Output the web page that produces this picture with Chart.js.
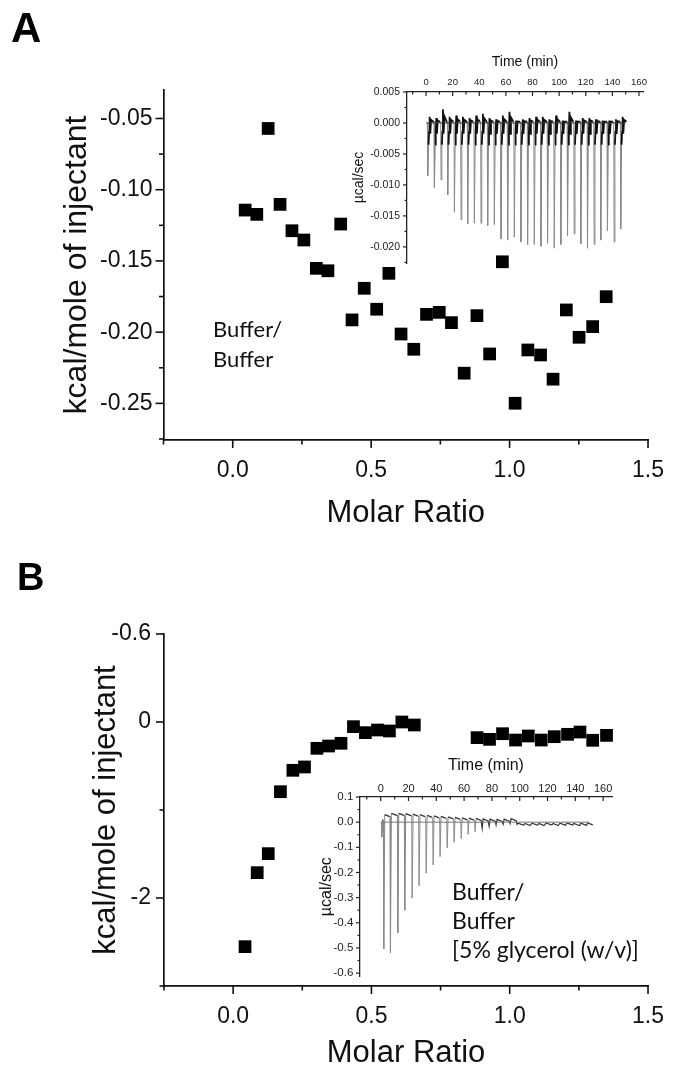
<!DOCTYPE html>
<html>
<head>
<meta charset="utf-8">
<title>ITC buffer/buffer titrations</title>
<script src="https://cdn.jsdelivr.net/npm/chart.js@4.4.1/dist/chart.umd.min.js"></script>
<style>
  html, body { margin: 0; padding: 0; background: #fff; }
  #page { position: relative; width: 681px; height: 1072px; overflow: hidden; }
  #page canvas { position: absolute; }
  .panel-tag { position: absolute; font-family: "Liberation Sans", Arial, sans-serif; font-weight: bold; color: #000; }
  .note { position: absolute; font-family: Lato, "Open Sans", sans-serif; color: #111; white-space: nowrap; }
</style>
</head>
<body>
<div id="page">
  <canvas id="chart-a" width="681" height="500" style="left:0;top:40px"></canvas>
  <canvas id="inset-a" width="351" height="240" style="left:330px;top:40px"></canvas>
  <canvas id="chart-b" width="681" height="482" style="left:0;top:590px"></canvas>
  <canvas id="inset-b" width="391" height="245" style="left:290px;top:745px"></canvas>

  <div class="panel-tag" style="left:11px;top:7px;font-size:42px;line-height:42px">A</div>
  <div class="panel-tag" style="left:17px;top:558px;font-size:38px;line-height:38px">B</div>
  <div class="note" style="left:213px;top:314px;font-size:22px;line-height:30px">Buffer/<br>Buffer</div>
  <div class="note" style="left:452px;top:877px;font-size:23px;line-height:29px">Buffer/<br>Buffer<br>[5% glycerol (w/v)]</div>
</div>

<script>
// Panel A: integrated heats, buffer into buffer
var aMolarRatio = [0.045, 0.087, 0.128, 0.171, 0.214, 0.257, 0.302, 0.344, 0.390, 0.431,
                   0.475, 0.520, 0.564, 0.608, 0.654, 0.700, 0.746, 0.790, 0.836, 0.882,
                   0.928, 0.974, 1.020, 1.066, 1.112, 1.157, 1.205, 1.251, 1.300, 1.349];
var aHeat = [-0.1143, -0.1173, -0.0570, -0.1103, -0.1288, -0.1353, -0.1552, -0.1569, -0.1241, -0.1914,
             -0.1692, -0.1839, -0.1587, -0.2013, -0.2120, -0.1875, -0.1861, -0.1933, -0.2288, -0.1884,
             -0.2153, -0.1506, -0.2499, -0.2125, -0.2160, -0.2330, -0.1844, -0.2036, -0.1961, -0.1751];

// Panel A inset: raw thermogram, one entry per injection (time, lowest point, highest point after it)
var aInjTime = [1, 6, 11, 16, 21, 26, 31, 36, 41, 46, 51, 56, 61, 66, 71,
                76, 81, 86, 91, 96, 101, 106, 111, 116, 121, 126, 131, 136, 141, 146];
var aInjPeak = [-0.0085, -0.0104, -0.0092, -0.0116, -0.0144, -0.0156, -0.0163, -0.0162, -0.0162, -0.0166,
                -0.0164, -0.0187, -0.0189, -0.0184, -0.0192, -0.0196, -0.0196, -0.0199, -0.0194, -0.0202,
                -0.0196, -0.0182, -0.0179, -0.0195, -0.0202, -0.0196, -0.0189, -0.0174, -0.0192, -0.0171];
var aInjTop = [0.0010, 0.0008, 0.0022, 0.0010, 0.0012, 0.0010, 0.0008, 0.0012, 0.0015, 0.0008,
               0.0006, 0.0012, 0.0018, 0.0004, 0.0006, 0.0008, 0.0010, 0.0010, 0.0006, 0.0012,
               0.0004, 0.0018, 0.0004, 0.0008, 0.0008, 0.0006, 0.0004, 0.0004, 0.0006, 0.0010];
var aBaseline = [[0, 0], [150, 0]];

// Panel B: integrated heats, buffer with 5% glycerol
var bMolarRatio = [0.043, 0.087, 0.127, 0.171, 0.216, 0.258, 0.303, 0.345, 0.390, 0.435,
                   0.478, 0.522, 0.565, 0.610, 0.655, 0.882, 0.927, 0.974, 1.021, 1.067,
                   1.114, 1.161, 1.209, 1.254, 1.300, 1.350];
var bHeat = [-2.553, -1.712, -1.496, -0.792, -0.549, -0.511, -0.299, -0.273, -0.242, -0.053,
             -0.121, -0.091, -0.102, 0.000, -0.034, -0.178, -0.197, -0.133, -0.205, -0.159,
             -0.205, -0.167, -0.140, -0.114, -0.208, -0.152];
var bYTickValues = [1, 0, -2];
var bYTickLabels = ["-0.6", "0", "-2"];

// Panel B inset: raw thermogram
var bInjTime = [0.5, 1.9, 6.7, 12, 17, 22.3, 27.3, 32.4, 37.4, 42.4, 47.5, 52.5, 57.6, 62.6, 67.6, 72.7,
                77.7, 82.7, 87.8, 92.8, 97.8, 102.9, 107.9, 112.9, 118, 123, 128, 133, 138, 143, 148];
var bInjPeak = [-0.060, -0.504, -0.520, -0.440, -0.350, -0.302, -0.253, -0.203, -0.170, -0.137, -0.102,
                -0.080, -0.065, -0.049, -0.038, -0.025, -0.016, -0.011, -0.008, -0.006, -0.009,
                -0.010, -0.009, -0.010, -0.009, -0.010, -0.009, -0.010, -0.009, -0.010, -0.009];
var bInjTop = [0.010, 0.030, 0.035, 0.035, 0.034, 0.032, 0.030, 0.027, 0.025, 0.023, 0.021,
               0.019, 0.017, 0.016, 0.015, 0.013, 0.012, 0.011, 0.012, 0.014, -0.004,
               -0.005, -0.004, -0.005, -0.003, -0.005, -0.004, -0.003, -0.005, -0.004, -0.003];
var bBaseline = [[0, 0], [150, 0]];

var FONT = '"Liberation Sans", Arial, Helvetica, sans-serif';
var INK = "#111";
var SPIKE_GREY = "#8a8a8a";

Chart.defaults.font.family = FONT;
Chart.defaults.color = INK;
Chart.defaults.animation = false;
Chart.defaults.plugins.legend.display = false;
Chart.defaults.plugins.tooltip.enabled = false;

function _toPoints(xs, ys) {
  return xs.map(function(x, i) { return { x: x, y: ys[i] }; });
}

function _pairs(list) {
  return list.map(function(p) { return { x: p[0], y: p[1] }; });
}

// label only the multiples of `step` (optionally inside lo..hi)
function _labelEvery(step, digits, lo, hi) {
  return function(v) {
    var r = v / step;
    if (Math.abs(r - Math.round(r)) > 1e-6) return "";
    if (lo !== undefined && (v < lo - 1e-9 || v > hi + 1e-9)) return "";
    if (Math.abs(v) < 1e-12) v = 0;
    return v.toFixed(digits);
  };
}

// Thermogram line: drop at each injection, then the return.
// knee mode (panel A): quick climb through a short noisy knee to the top, then settle near 0.
// sag mode (panel B): jump to the overshoot level, then sag slowly until the next shot.
function _thermogram(times, peaks, tops, knee, sag) {
  var pts = [];
  var level = 0;
  for (var i = 0; i < times.length; i++) {
    var t = times[i];
    var tEnd = i + 1 < times.length ? Math.min(t + 4.6, times[i + 1] - 0.2) : t + 4.6;
    pts.push({ x: t, y: level });
    pts.push({ x: t + 0.3, y: peaks[i] });
    if (knee !== null) {
      pts.push({ x: t + 0.9, y: knee });
      pts.push({ x: t + 1.3, y: knee * 0.4 });
      pts.push({ x: t + 1.7, y: tops[i] });
      pts.push({ x: t + 2.2, y: knee * 0.5 });
      pts.push({ x: t + 2.8, y: tops[i] * 0.5 });
      pts.push({ x: tEnd, y: 0.0002 });
      level = 0.0002;
    } else {
      pts.push({ x: Math.min(t + 1.0, tEnd - 0.1), y: tops[i] });
      pts.push({ x: tEnd, y: tops[i] - sag });
      level = tops[i] - sag;
    }
  }
  return pts;
}

// Tick marks drawn by hand so minor ticks can be shorter and inset ticks can point inward
function _tickMarks(axes) {
  return {
    id: "tickMarks",
    afterDraw: function(chart) {
      var ctx = chart.ctx;
      axes.forEach(function(a) {
        var s = chart.scales[a.id];
        ctx.save();
        ctx.strokeStyle = a.color || INK;
        ctx.lineWidth = a.width;
        s.ticks.forEach(function(tk) {
          var r = tk.value / a.step;
          if (Math.abs(r - Math.round(r)) > 1e-6) return;
          var len = tk.label !== "" ? a.major : a.minor;
          var out = a.inward ? -len : len;
          var p = s.getPixelForValue(tk.value);
          ctx.beginPath();
          if (s.position === "bottom") {
            ctx.moveTo(p, s.top); ctx.lineTo(p, s.top + out);
          } else if (s.position === "top") {
            ctx.moveTo(p, s.bottom); ctx.lineTo(p, s.bottom - out);
          } else {
            ctx.moveTo(s.right, p); ctx.lineTo(s.right - out, p);
          }
          ctx.stroke();
        });
        ctx.restore();
      });
    }
  };
}

function _squares(points) {
  return {
    data: points,
    pointStyle: "rect",
    pointRadius: 9,
    pointHoverRadius: 9,
    backgroundColor: "#000",
    borderWidth: 0,
    clip: false
  };
}

function _traceSet(points, cut, darkColor, darkWidth) {
  return {
    data: points,
    showLine: true,
    pointRadius: 0,
    borderColor: darkColor,
    borderWidth: 1,
    tension: 0,
    segment: {
      borderColor: function(c) { return (c.p0.parsed.y < cut || c.p1.parsed.y < cut) ? SPIKE_GREY : darkColor; },
      borderWidth: function(c) { return (c.p0.parsed.y < cut || c.p1.parsed.y < cut) ? 1 : darkWidth; }
    }
  };
}

function _baseSet(points, color) {
  return { data: points, showLine: true, pointRadius: 0, borderColor: color, borderWidth: 1 };
}

// ---------- main panel A ----------
new Chart(document.getElementById("chart-a"), {
  type: "scatter",
  data: { datasets: [_squares(_toPoints(aMolarRatio, aHeat))] },
  options: {
    responsive: false,
    events: [],
    layout: { padding: { top: 50, right: 20.3, bottom: 0, left: 0 } },
    scales: {
      x: {
        type: "linear", position: "bottom", min: -0.25, max: 1.5,
        grid: { display: false, drawTicks: false },
        border: { display: true, color: INK, width: 1.7 },
        ticks: { stepSize: 0.25, includeBounds: false, autoSkip: false, maxRotation: 0,
                 padding: 17, font: { size: 23 }, callback: _labelEvery(0.5, 1) },
        title: { display: true, text: "Molar Ratio", font: { size: 31 }, padding: { top: 0, bottom: 8 } },
        afterFit: function(s) { s.height = 100; }
      },
      y: {
        type: "linear", position: "left", min: -0.2757, max: -0.030,
        grid: { display: false, drawTicks: false },
        border: { display: true, color: INK, width: 1.7 },
        ticks: { stepSize: 0.025, includeBounds: false, autoSkip: false,
                 padding: 11, font: { size: 23 }, callback: _labelEvery(0.05, 2) },
        title: { display: true, text: "kcal/mole of injectant", font: { size: 32 }, padding: { top: 57.8, bottom: 0 } },
        afterFit: function(s) { s.width = 163.5; }
      }
    }
  },
  plugins: [_tickMarks([
    { id: "x", step: 0.25, major: 8, minor: 4.5, width: 1.6 },
    { id: "y", step: 0.025, major: 8, minor: 4.5, width: 1.6 }
  ])]
});

// ---------- inset A ----------
new Chart(document.getElementById("inset-a"), {
  type: "scatter",
  data: {
    datasets: [
      _baseSet(_pairs(aBaseline), "#333"),
      _traceSet(_thermogram(aInjTime, aInjPeak, aInjTop, -0.0035, 0), -0.0045, "#111", 1.8)
    ]
  },
  options: {
    responsive: false,
    events: [],
    layout: { padding: { top: 0, right: 38, bottom: 17, left: 0 } },
    scales: {
      x: {
        type: "linear", position: "top", min: -14.3, max: 163,
        grid: { display: false, drawTicks: false },
        border: { display: true, color: "#222", width: 1.3 },
        ticks: { stepSize: 10, includeBounds: false, autoSkip: false, maxRotation: 0,
                 padding: 4.3, font: { size: 9.5 }, color: "#222", callback: _labelEvery(20, 0, 0, 160) },
        title: { display: true, text: "Time (min)", font: { size: 14 }, color: "#111", padding: { top: 13.6, bottom: 0 } },
        afterFit: function(s) { s.height = 52; }
      },
      y: {
        type: "linear", position: "left", min: -0.0226, max: 0.005,
        grid: { display: false, drawTicks: false },
        border: { display: true, color: "#222", width: 1.3 },
        ticks: { stepSize: 0.0025, includeBounds: false, autoSkip: false,
                 padding: 7, font: { size: 10.5 }, color: "#222", callback: _labelEvery(0.005, 3) },
        title: { display: true, text: "µcal/sec", font: { size: 14 }, color: "#111", padding: { top: 20.6, bottom: 0 } },
        afterFit: function(s) { s.width = 77; }
      }
    }
  },
  plugins: [_tickMarks([
    { id: "x", step: 10, major: 4, minor: 2.5, width: 1.2, inward: true, color: "#222" },
    { id: "y", step: 0.0025, major: 4, minor: 2.5, width: 1.2, color: "#222" }
  ])]
});

// ---------- main panel B ----------
new Chart(document.getElementById("chart-b"), {
  type: "scatter",
  data: { datasets: [_squares(_toPoints(bMolarRatio, bHeat))] },
  options: {
    responsive: false,
    events: [],
    layout: { padding: { top: 44, right: 27, bottom: 0, left: 0 } },
    scales: {
      x: {
        type: "linear", position: "bottom", min: -0.25, max: 1.5,
        grid: { display: false, drawTicks: false },
        border: { display: true, color: INK, width: 1.7 },
        ticks: { stepSize: 0.25, includeBounds: false, autoSkip: false, maxRotation: 0,
                 padding: 17, font: { size: 23 }, callback: _labelEvery(0.5, 1) },
        title: { display: true, text: "Molar Ratio", font: { size: 31 }, padding: { top: 0, bottom: 0 } },
        afterFit: function(s) { s.height = 86; }
      },
      y: {
        type: "linear", position: "left", min: -3, max: 1,
        grid: { display: false, drawTicks: false },
        border: { display: true, color: INK, width: 1.7 },
        ticks: { stepSize: 1, includeBounds: false, autoSkip: false, padding: 13, font: { size: 23 },
                 callback: function(v) {
                   var i = bYTickValues.indexOf(Math.round(v * 1000) / 1000);
                   return i < 0 ? "" : bYTickLabels[i];
                 } },
        title: { display: true, text: "kcal/mole of injectant", font: { size: 31 }, padding: { top: 87.4, bottom: 0 } },
        afterFit: function(s) { s.width = 164; }
      }
    }
  },
  plugins: [_tickMarks([
    { id: "x", step: 0.25, major: 8, minor: 4.5, width: 1.6 },
    { id: "y", step: 1, major: 8, minor: 4.5, width: 1.6 }
  ])]
});

// ---------- inset B ----------
new Chart(document.getElementById("inset-b"), {
  type: "scatter",
  data: {
    datasets: [
      _baseSet(_pairs(bBaseline), "#777"),
      _traceSet(_thermogram(bInjTime, bInjPeak, bInjTop, null, 0.008), -0.03, "#333", 1.2)
    ]
  },
  options: {
    responsive: false,
    events: [],
    layout: { padding: { top: 0, right: 69, bottom: 8.3, left: 0 } },
    scales: {
      x: {
        type: "linear", position: "top", min: -14.9, max: 166.4,
        grid: { display: false, drawTicks: false },
        border: { display: true, color: "#222", width: 1.3 },
        ticks: { stepSize: 10, includeBounds: false, autoSkip: false, maxRotation: 0,
                 padding: 1.8, font: { size: 11 }, color: "#222", callback: _labelEvery(20, 0, 0, 160) },
        title: { display: true, text: "Time (min)", font: { size: 16 }, color: "#111", padding: { top: 11.4, bottom: 0 } },
        afterFit: function(s) { s.height = 52; }
      },
      y: {
        type: "linear", position: "left", min: -0.613, max: 0.1,
        grid: { display: false, drawTicks: false },
        border: { display: true, color: "#222", width: 1.3 },
        ticks: { stepSize: 0.05, includeBounds: false, autoSkip: false,
                 padding: 6.7, font: { size: 11.5 }, color: "#222", callback: _labelEvery(0.1, 1) },
        title: { display: true, text: "µcal/sec", font: { size: 16 }, color: "#111", padding: { top: 26.9, bottom: 0 } },
        afterFit: function(s) { s.width = 70; }
      }
    }
  },
  plugins: [_tickMarks([
    { id: "x", step: 10, major: 4, minor: 2.5, width: 1.2, inward: true, color: "#222" },
    { id: "y", step: 0.05, major: 4, minor: 2.5, width: 1.2, color: "#222" }
  ])]
});
</script>
</body>
</html>
